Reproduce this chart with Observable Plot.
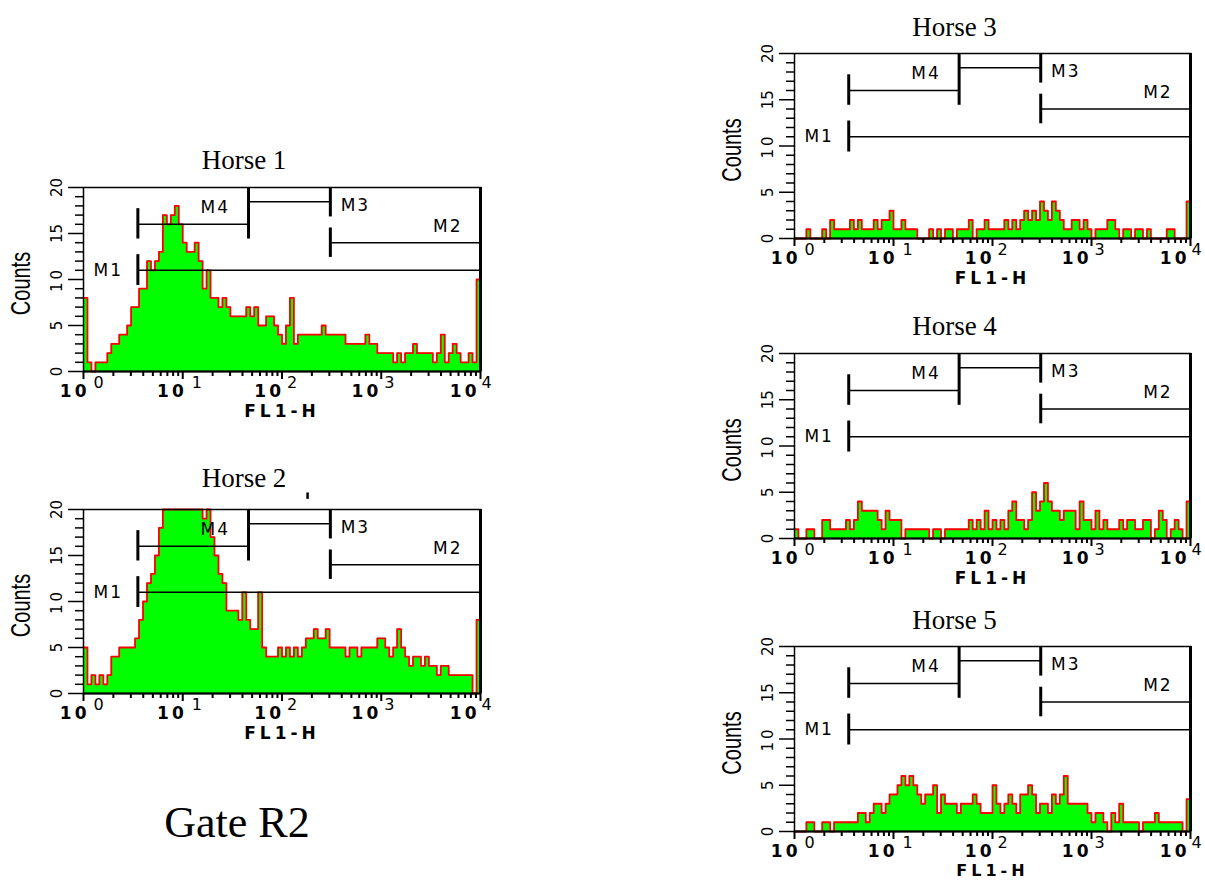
<!DOCTYPE html>
<html><head><meta charset="utf-8">
<script src="https://cdn.jsdelivr.net/npm/d3@7"></script>
<script src="https://cdn.jsdelivr.net/npm/@observablehq/plot@0.6"></script>
<style>
body{margin:0;background:#fff;}
#wrap{position:relative;width:1205px;height:880px;overflow:hidden;background:#fff;}
.panel{position:absolute;}
#gate{position:absolute;left:87px;top:801px;width:300px;text-align:center;font-family:"Liberation Serif","Times New Roman",serif;font-size:44px;line-height:44px;color:#000;}
</style></head><body><div id="wrap"></div>
<script>
// ---------- data ----------
const horseNames = ["Horse 1", "Horse 2", "Horse 3", "Horse 4", "Horse 5"];
// counts per channel (100 channels, equal width in log10 over 10^0..10^4)
const horse1 = [8,1,0,1,1,1,2,3,3,4, 4,5,7,7,9,9,12,11,12,13, 17,16,17,18,16,14,13,13,14,12, 9,11,8,8,7,8,7,6,6,6, 6,7,6,7,5,5,6,6,5,4, 3,5,8,3,4,4,4,4,4,4, 5,4,4,4,4,4,3,3,3,3, 3,4,3,3,2,2,2,2,1,2, 1,2,2,3,2,2,2,2,1,2, 4,1,2,3,2,1,1,2,1,10];
const horse2 = [5,1,2,1,2,1,2,4,4,5, 5,5,5,6,8,10,12,13,15,18, 20,20,20,20,20,20,20,20,20,20, 19,20,17,15,13,12,9,9,9,8, 11,8,7,7,11,5,4,4,4,5, 4,5,4,5,4,5,6,6,7,6, 6,7,5,5,5,5,4,5,5,4, 5,5,5,5,6,6,5,4,5,7, 5,4,3,4,4,3,4,3,3,2, 3,3,2,2,2,2,2,2,0,8];
const horse3 = [0,0,0,1,0,0,0,1,0,2, 1,1,1,1,2,1,2,1,1,1, 2,1,2,2,3,1,1,2,1,1, 1,0,0,0,1,0,1,0,1,1, 0,1,1,1,2,0,1,1,2,1, 1,1,1,2,1,2,1,2,3,2, 3,2,4,3,2,4,3,2,1,1, 2,2,1,2,1,0,1,1,1,2, 2,1,0,1,1,0,1,1,0,1, 0,0,0,0,1,1,0,0,0,4];
const horse4 = [1,0,0,1,1,0,0,2,2,1, 1,1,1,2,1,2,4,3,3,3, 3,2,1,3,2,2,2,0,1,1, 1,1,1,1,0,1,1,0,1,1, 1,1,1,1,2,1,2,1,3,1, 2,1,2,1,3,4,2,2,1,2, 5,3,4,6,4,3,3,2,3,3, 3,1,4,2,2,1,3,1,2,1, 1,1,2,1,2,2,1,1,2,2, 0,1,3,2,0,1,2,1,0,4];
const horse5 = [0,0,0,1,1,0,0,1,1,0, 1,1,1,1,1,1,2,2,1,2, 3,3,2,3,4,4,5,6,5,6, 5,4,3,4,4,5,2,4,3,3, 3,2,3,3,3,4,3,2,2,2, 5,3,2,3,4,3,2,4,4,5, 4,2,3,3,2,4,3,4,6,3, 3,3,3,3,2,1,2,2,1,0, 2,1,3,1,1,1,1,0,1,1, 1,2,1,1,1,1,1,1,0,3.5];
const horseCounts = [horse1, horse2, horse3, horse4, horse5];

const decades = [1, 10, 100, 1000, 10000];
const decadeExponents = ["0", "1", "2", "3", "4"];
const minorTicks = [2,3,4,5,6,7,8,9,20,30,40,50,60,70,80,90,200,300,400,500,600,700,800,900,2000,3000,4000,5000,6000,7000,8000,9000];
const countTicks = [0, 5, 10, 15, 20];
const countMinor = [1,2,3,4,6,7,8,9,11,12,13,14,16,17,18,19];

// gate markers
const markerNames = ["M1", "M2", "M3", "M4"];
const markerStart = [3.53, 307, 46, 3.53];
const markerEnd = [10000, 10000, 307, 46];
const markerLevel = [11, 14, 18.45, 16];
const markerLabelX = [2.5, 6600, 390, 30];
const markerLabelY = [11.0, 15.8, 18.0, 17.8];
const markerLabelAnchor = ["end", "end", "start", "end"];
// vertical bracket ends
const bracketX = [3.53, 3.53, 46, 307, 307];
const bracketLow = [9.35, 14.4, 14.4, 12.4, 16.8];
const bracketHigh = [12.7, 17.7, 20, 15.6, 20];
// stray mark above Horse 2
const strayX = [181];
const strayLow = [21.1];
const strayHigh = [21.8];

// ---------- layout ----------
const layout = [
  {left: 0,   top: 130, w: 397, h: 184, mt: 57, mb: 50, titleDy: -27, axisDy: 40, fl: 17},
  {left: 0,   top: 452, w: 397, h: 184, mt: 57, mb: 50, titleDy: -31, axisDy: 40, fl: 17},
  {left: 711, top: 8,   w: 396, h: 185, mt: 45, mb: 45, titleDy: -26, axisDy: 40, fl: 17},
  {left: 711, top: 308, w: 396, h: 185, mt: 45, mb: 45, titleDy: -27, axisDy: 40, fl: 17},
  {left: 711, top: 601, w: 396, h: 185, mt: 45, mb: 49, titleDy: -26, axisDy: 39, fl: 16}
];
// horizontal offsets of the "10" and exponent pieces of each decade label
const tenDx = [6, 4, 2, 0, -1];
const expDx = [10, 9, 5, 3, 1];

const wrap = document.getElementById("wrap");
const RED = "#ff0000", GREEN = "#00ff00";
const SANS = "DejaVu Sans, sans-serif";

horseNames.forEach((name, k) => {
  const L = layout[k];
  const vals = horseCounts[k];
  const n = vals.length;
  const step = 4 / n;
  const outline = vals.map((c, i) => ({x: Math.pow(10, i * step), c})).concat([{x: 10000, c: vals[n - 1]}]);
  const markers = markerNames.map((m, i) => ({m, x1: markerStart[i], x2: markerEnd[i], y: markerLevel[i], lx: markerLabelX[i], ly: markerLabelY[i], a: markerLabelAnchor[i]}));
  const brackets = bracketX.map((x, i) => ({x, y1: bracketLow[i], y2: bracketHigh[i]}));
  const stray = k === 1 ? strayX.map((x, i) => ({x, y1: strayLow[i], y2: strayHigh[i]})) : [];

  const decadeLabels = decades.flatMap((d, i) => [
    Plot.text([d], {x: v => v, text: () => "10", frameAnchor: "bottom", dy: 20, dx: tenDx[i], textAnchor: "end", lineAnchor: "middle", fontSize: 17, fontWeight: "bold", fontFamily: SANS, fill: "black"}),
    Plot.text([d], {x: v => v, text: () => decadeExponents[i], frameAnchor: "bottom", dy: 11, dx: expDx[i], textAnchor: "start", lineAnchor: "middle", fontSize: 16, fontFamily: SANS, fill: "black"})
  ]);

  const markerText = (anchor) => Plot.text(markers.filter(d => d.a === anchor), {x: "lx", y: "ly", text: "m", textAnchor: anchor, lineAnchor: "middle", fontSize: 17, fontFamily: SANS, fill: "black"});

  const marks = [
    Plot.areaY(outline, {x: "x", y: "c", curve: "step-after", fill: GREEN}),
    Plot.line(outline, {x: "x", y: "c", curve: "step-after", stroke: RED, strokeWidth: 1.8}),
    Plot.frame({stroke: "black", strokeWidth: 1.5}),
    Plot.ruleX([10000], {stroke: "black", strokeWidth: 3}),
    Plot.ruleY([0], {stroke: "black", strokeWidth: 2}),
    Plot.axisX({ticks: decades, tickSize: 8, tickFormat: () => "", label: null, strokeWidth: 2}),
    Plot.axisX({ticks: minorTicks, tickSize: 5, tickFormat: () => "", label: null, strokeWidth: 2}),
    Plot.axisY({ticks: countTicks, tickSize: 15, tickFormat: () => "", label: null, strokeWidth: 1.5}),
    Plot.axisY({ticks: countMinor, tickSize: 8, tickFormat: () => "", label: null, strokeWidth: 1.5}),
    ...decadeLabels,
    Plot.text(countTicks, {y: d => d, text: d => String(d), frameAnchor: "left", dx: -26, rotate: -90, textAnchor: "middle", lineAnchor: "middle", fontSize: 15, fontFamily: SANS, fill: "black"}),
    Plot.text(["Counts"], {frameAnchor: "left", dx: -62, dy: 4, rotate: -90, textAnchor: "middle", lineAnchor: "middle", fontSize: 20, fontFamily: "Liberation Sans Narrow, Liberation Sans, sans-serif", fill: "black"}),
    Plot.text(["FL1-H"], {frameAnchor: "bottom", dy: L.axisDy, textAnchor: "middle", lineAnchor: "middle", fontSize: L.fl, fontWeight: "bold", fontFamily: SANS, fill: "black"}),
    Plot.text([name], {frameAnchor: "top", dy: L.titleDy, dx: -38, textAnchor: "middle", lineAnchor: "middle", fontSize: 27, fontFamily: "Liberation Serif, Times New Roman, serif", fill: "black"}),
    Plot.ruleY(markers, {y: "y", x1: "x1", x2: "x2", stroke: "black", strokeWidth: 1.5}),
    Plot.ruleX(brackets, {x: "x", y1: "y1", y2: "y2", stroke: "black", strokeWidth: 3}),
    markerText("end"),
    markerText("start"),
    Plot.ruleX(stray, {x: "x", y1: "y1", y2: "y2", stroke: "black", strokeWidth: 2.5})
  ];

  const chart = Plot.plot({
    width: 83 + L.w + 25,
    height: L.mt + L.h + L.mb,
    marginLeft: 83, marginRight: 25, marginTop: L.mt, marginBottom: L.mb,
    x: {type: "log", domain: [1, 10000]},
    y: {domain: [0, 20]},
    style: {fontFamily: SANS, background: "transparent", overflow: "visible", color: "black"},
    marks
  });
  // text styling that Plot has no option for
  d3.select(chart).selectAll("text").each(function () {
    const t = this.textContent;
    if (/^M\d$/.test(t)) this.style.letterSpacing = "2px";
    else if (t === "FL1-H") this.style.letterSpacing = "4px";
    else if (t === "10") this.style.letterSpacing = "3px";
    else if (t === "Counts") {
      const tr = this.getAttribute("transform") || "";
      this.setAttribute("transform", tr + " scale(1,1.35)");
    }
  });
  chart.classList.add("panel");
  chart.style.left = L.left + "px";
  chart.style.top = L.top + "px";
  chart.style.position = "absolute";
  wrap.appendChild(chart);
});

const gate = document.createElement("div");
gate.id = "gate";
gate.textContent = "Gate R2";
wrap.appendChild(gate);
</script>
</body></html>
